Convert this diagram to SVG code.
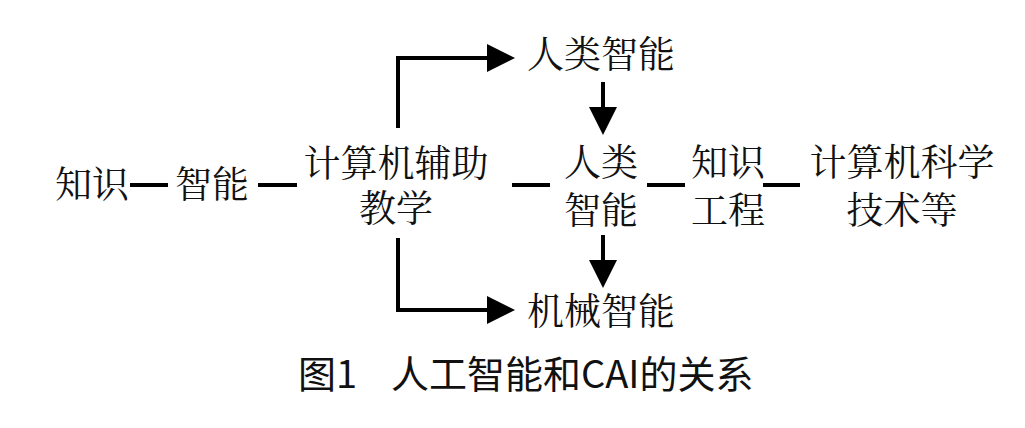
<svg xmlns="http://www.w3.org/2000/svg" width="1025" height="428" viewBox="0 0 1025 428">
<defs>
<style>
.t{font-family:"Noto Serif CJK SC","Liberation Serif","Noto Sans CJK SC",serif;font-size:37px;fill:#111;text-anchor:middle}
.cap{font-family:"Noto Sans CJK SC","Liberation Sans",sans-serif;font-size:38px;fill:#111}
.ln{stroke:#000;stroke-width:4;fill:none}
</style>
<marker id="ah" markerUnits="userSpaceOnUse" markerWidth="28" markerHeight="28" refX="2" refY="14" orient="auto">
<path d="M0,0 L28,14 L0,28 Z" fill="#000"/>
</marker>
</defs>
<rect width="1025" height="428" fill="#fff"/>
<g id="connectors">
<line class="ln" x1="130" y1="185" x2="168" y2="185"/>
<line class="ln" x1="258" y1="185" x2="297" y2="185"/>
<line class="ln" x1="512" y1="185" x2="550" y2="185"/>
<line class="ln" x1="647" y1="185" x2="685" y2="185"/>
<line class="ln" x1="763" y1="185" x2="800" y2="185"/>
<path class="ln" d="M398,128 V58 H489" marker-end="url(#ah)"/>
<path class="ln" d="M398,238 V310 H489" marker-end="url(#ah)"/>
<path class="ln" d="M603,82 V109" marker-end="url(#ah)"/>
<path class="ln" d="M603,235 V262" marker-end="url(#ah)"/>
</g>
<g id="n-zhishi"><text class="t" x="92" y="198">知识</text></g>
<g id="n-zhineng"><text class="t" x="212" y="198">智能</text></g>
<g id="n-cai"><text class="t" x="396" y="177">计算机辅助<tspan x="396" y="222">教学</tspan></text></g>
<g id="n-renlei-top"><text class="t" x="601" y="68">人类智能</text></g>
<g id="n-renlei"><text class="t" x="601" y="176">人类<tspan x="601" y="224">智能</tspan></text></g>
<g id="n-jixie"><text class="t" x="601" y="325">机械智能</text></g>
<g id="n-zsgc"><text class="t" x="728" y="176">知识<tspan x="728" y="224">工程</tspan></text></g>
<g id="n-jsj"><text class="t" x="902" y="176">计算机科学<tspan x="902" y="224">技术等</tspan></text></g>
<g id="caption"><text class="cap" x="298" y="388">图1</text><text class="cap" x="391" y="388">人工智能和CAI的关系</text></g>
</svg>
